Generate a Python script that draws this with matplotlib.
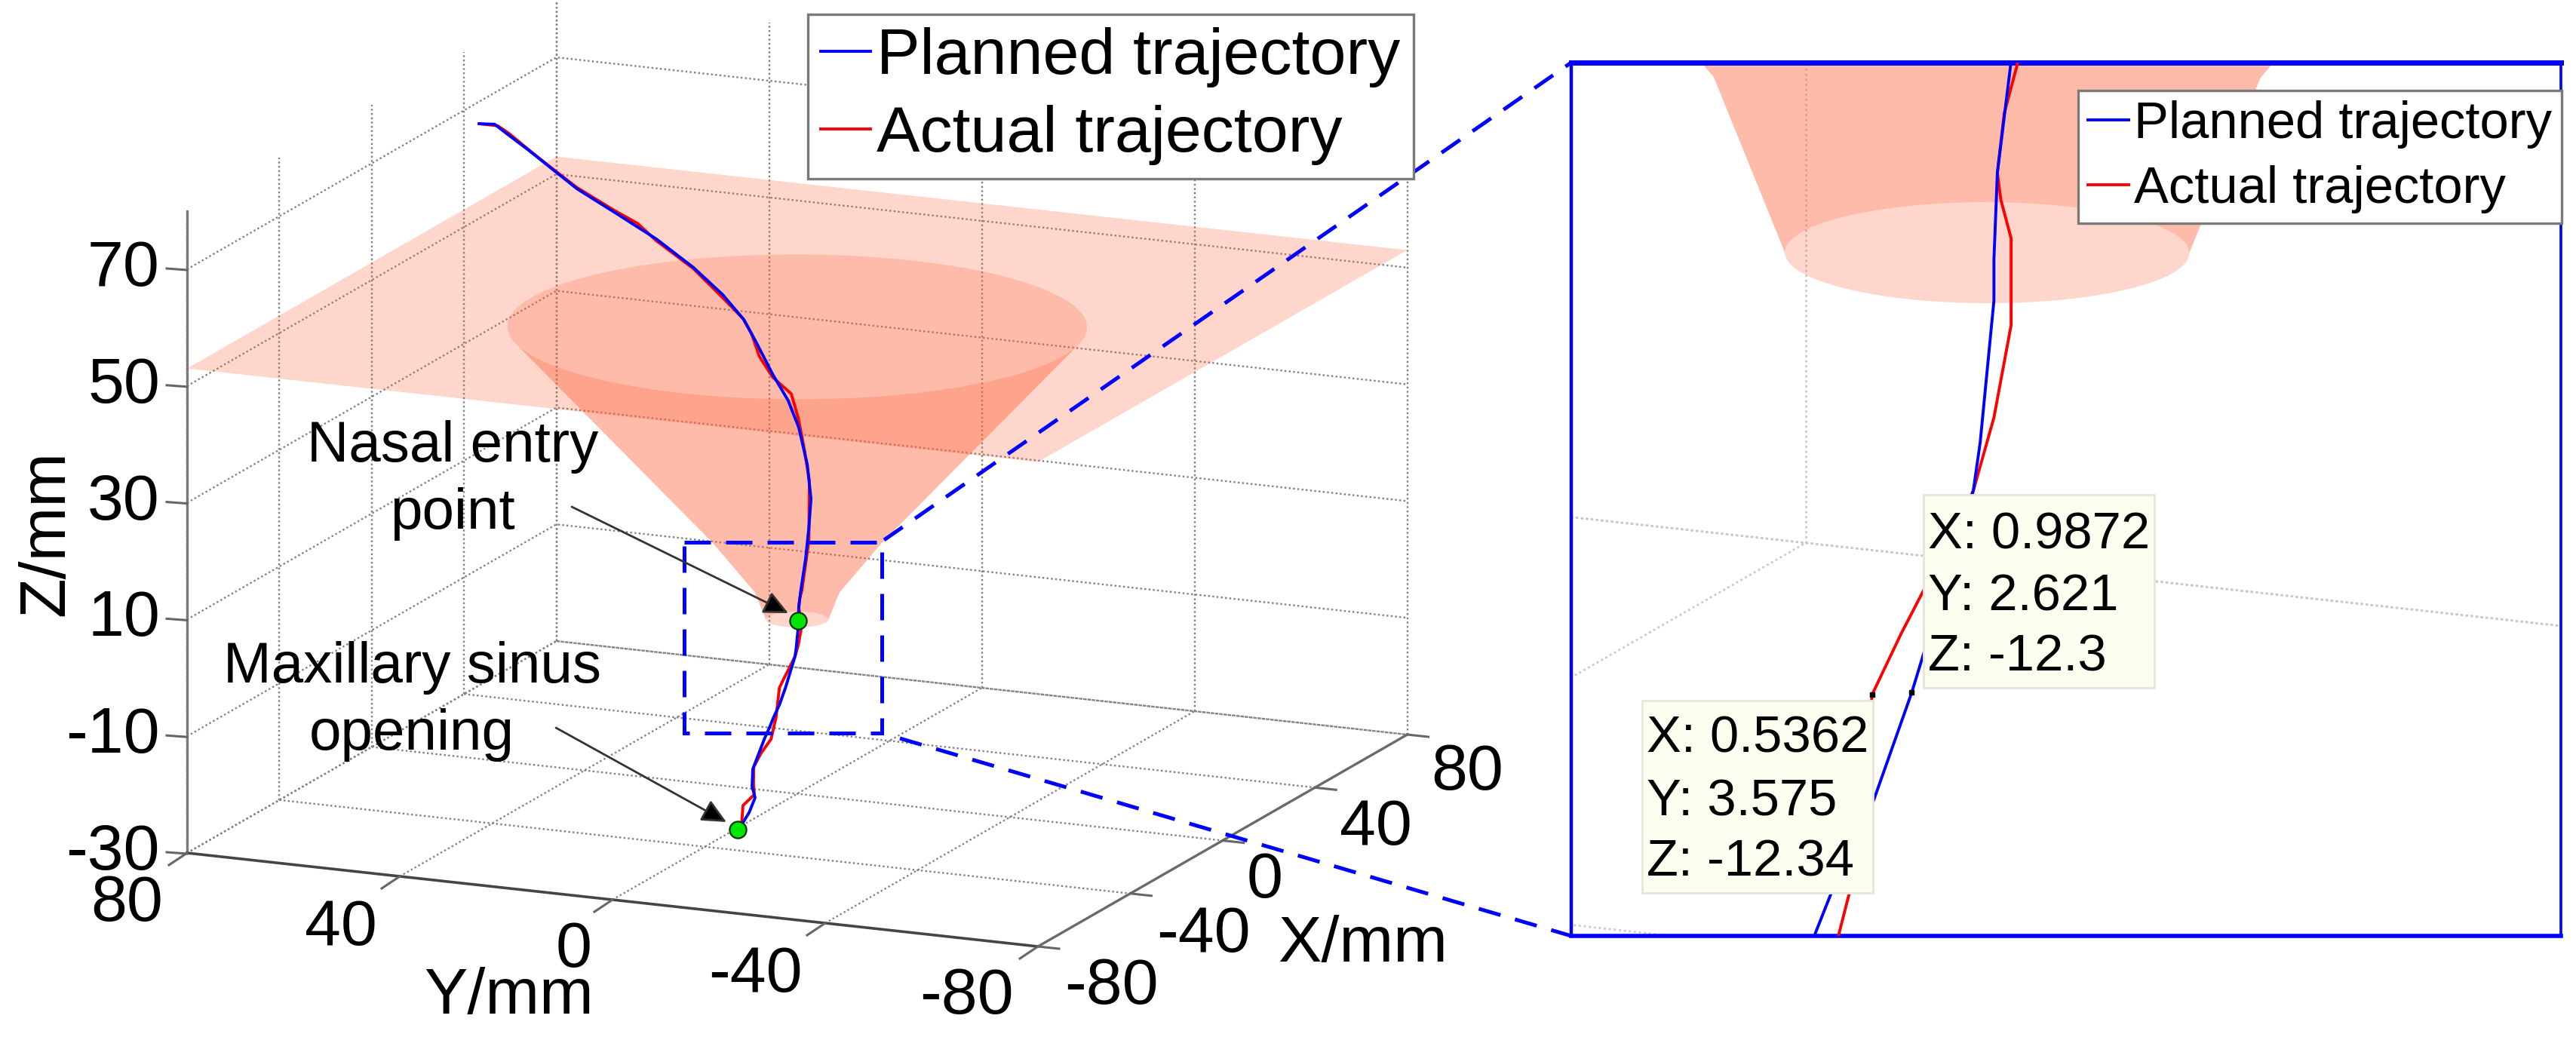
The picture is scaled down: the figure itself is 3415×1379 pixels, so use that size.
import numpy as np
import matplotlib
matplotlib.use("Agg")
import matplotlib.pyplot as plt
from matplotlib.patches import Polygon, Rectangle

plt.rcParams['font.family'] = ['Liberation Sans', 'DejaVu Sans']

# ---------------- data (mm) ----------------
x_ticks = [-80, -40, 0, 40, 80]
y_ticks = [80, 40, 0, -40, -80]
z_ticks = [-30, -10, 10, 30, 50, 70]
z_top = 80

planned_x = [0]*25 + [0.9872] + [0]*4 + [-10, -14, -18, -24, -30, -34]
planned_y = [59.8, 56.9, 54.4, 50.5, 45.4, 41.4, 34.4, 26.5, 19.5, 14.0, 10.0, 7.6, 4.6, 1.7, -0.3, -1.9,
             -2.6, -2.2, -1.6, -0.7, -0.3, -0.2, -0.2, 0.2, 0.4, 2.621, 3.3, 4.5, 5.0, 6.2, 4.0, 2.4, 0.1,
             -1.4, -2.6, -3.6]
planned_z = [78.8, 79.0, 77.5, 75.2, 72.0, 69.5, 66.2, 62.4, 58.2, 54.1, 50.2, 46.4, 41.4, 37.2, 32.8, 26.6,
             20.8, 15.8, 10.5, 5.0, 2.0, -0.3, -1.4, -5.2, -6.5, -12.3, -15.0, -17.5, -18.7, -21.3, -23.9,
             -25.8, -26.6, -27.6, -28.2, -28.1]

actual_x = [0]*30 + [0.5362] + [0]*4 + [-8, -12, -16, -26, -30, -34]
actual_y = [59.8, 56.3, 54.2, 49.9, 45.4, 41.4, 34.4, 30.0, 26.5, 19.5, 14.4, 10.2, 8.6, 7.1, 4.6, 1.1, -0.2,
            -1.3, -2.3, -2.2, -0.9, -0.5, -0.3, -0.4, -0.7, -0.7, -0.2, 0.4, 1.8, 2.5, 3.575, 4.0, 4.3, 4.9,
            6.9, 4.7, 3.0, 1.1, -1.1, -2.6, -3.6]
actual_z = [78.8, 78.8, 77.7, 74.9, 72.1, 69.7, 66.5, 64.7, 62.1, 58.0, 53.9, 50.4, 48.0, 44.2, 40.9, 38.4,
            34.4, 29.4, 23.8, 13.6, 5.0, 3.6, 2.0, 1.3, 0.3, -2.0, -4.5, -6.5, -9.2, -10.5, -12.34, -17.5,
            -18.6, -21.1, -23.9, -24.1, -26.0, -26.6, -26.0, -27.8, -28.1]

entry_point = (0.0, -0.2, -0.3)
sinus_point = (-34.0, -3.6, -28.1)

plane_z = 53.0
cone_z = [-0.15, 4.5, 13, 50]
cone_r = [5.4, 7.3, 14.6, 50]

tip_planned = (0.9872, 2.621, -12.3)
tip_actual = (0.5362, 3.575, -12.34)

series_labels = ['Planned trajectory', 'Actual trajectory']

# ---------------- style ----------------
BLUE = '#0000FF'
RED = '#FF0000'
TINT = (1.0, 100/255, 60/255)
FONT = 'Liberation Sans'
W, H = 3415, 1379


def project(x, y, z):
    """Orthographic view of the chart's 3-D box onto the figure."""
    x, y, z = np.asarray(x, float), np.asarray(y, float), np.asarray(z, float)
    u, w = 80 - y, x + 80
    return 248 + 7.05*u + 3.06*w, 1131 + 0.775*u - 1.756*w - 7.74*(z + 30)


T_RIGHT = np.arctan2(-7.05, 3.06)     # angle of a circle's right-hand extreme on screen


def arc(z, r, start=T_RIGHT, span=np.pi, n=60):
    """Part of a horizontal circle, as projected."""
    t = start - np.linspace(0, span, n)
    return np.c_[project(r*np.cos(t), r*np.sin(t), z*np.ones(n))]


def ring(z, r):
    return np.r_[arc(z, r), arc(z, r, T_RIGHT + np.pi)]


def tangent_angle():
    """Where the funnel's straight side touches the front of the top ring."""
    z1, r1, z2, r2 = cone_z[-1], cone_r[-1], cone_z[-2], cone_r[-2]
    dx = r2*7.685/(r1*7.685)
    dy = (project(0, 0, z2)[1] - project(0, 0, z1)[1])/(r1*1.92)
    return np.arctan2(dy, dx) - np.arccos(1/np.hypot(dx, dy))


def draw_scene(ax, grid_color, grid_lw):
    gs = dict(color=grid_color, lw=grid_lw, ls=(0, (1, 1.4)), zorder=1)
    for x in x_ticks:
        ax.plot(*project([x, x], [80, -80], [-30, -30]), **gs)
        ax.plot(*project([x, x], [80, 80], [-30, z_top]), **gs)
    for y in y_ticks:
        ax.plot(*project([-80, 80], [y, y], [-30, -30]), **gs)
        ax.plot(*project([80, 80], [y, y], [-30, z_top]), **gs)
    for z in z_ticks:
        ax.plot(*project([-80, 80, 80], [80, 80, -80], [z, z, z]), **gs)

    # plane
    px, py = project([-80, 80, 80, -80], [80, 80, -80, -80], [plane_z]*4)
    ax.add_patch(Polygon(np.c_[px, py], fc=TINT, alpha=0.264, ec='none', zorder=2))

    # funnel body: front arc of the top ring, down the left silhouette,
    # back arc of the small bottom ring, up the right silhouette
    s0 = tangent_angle()
    top_front = arc(cone_z[-1], cone_r[-1], T_RIGHT - s0, np.pi - 2*s0)
    bottom_back = arc(cone_z[0], cone_r[0], T_RIGHT + np.pi)
    mid_left = np.array([arc(z, r)[-1] for z, r in zip(cone_z[1:-1], cone_r[1:-1])])[::-1]
    mid_right = np.array([arc(z, r)[0] for z, r in zip(cone_z[1:-1], cone_r[1:-1])])
    body = np.r_[top_front, mid_left, bottom_back, mid_right]
    ax.add_patch(Polygon(body, fc=TINT, alpha=0.44, ec='none', zorder=2.1))
    ax.add_patch(Polygon(ring(cone_z[-1], cone_r[-1]), fc=TINT, alpha=0.237, ec='none', zorder=2.2))
    ax.add_patch(Polygon(ring(cone_z[0], cone_r[0]), fc=TINT, alpha=0.264, ec='none', zorder=2.2))

    la, = ax.plot(*project(actual_x, actual_y, actual_z), color=RED, lw=2.8, zorder=5,
                  solid_joinstyle='round', label=series_labels[1])
    lp, = ax.plot(*project(planned_x, planned_y, planned_z), color=BLUE, lw=2.8, zorder=5.1,
                  solid_joinstyle='round', label=series_labels[0])
    return lp, la


fig = plt.figure(figsize=(W/100, H/100), dpi=100, facecolor='white')
ax = fig.add_axes([0, 0, 1, 1])
ax.set_xlim(0, W)
ax.set_ylim(H, 0)
ax.axis('off')

lp, la = draw_scene(ax, '#808080', 1.7)

# box edges
ax.plot(*project([-80, -80], [80, 80], [-30, z_top]), color='#7a7a7a', lw=2.4, zorder=3)
ax.plot(*project([-80, -80], [80, -80], [-30, -30]), color='#454545', lw=2.6, zorder=3)
ax.plot(*project([-80, 80], [-80, -80], [-30, -30]), color='#6a6a6a', lw=2.4, zorder=3)

# ticks and labels
TICK_FS = 62
for z in z_ticks:
    px, py = project(-80, 80, z)
    ax.plot([px - 27, px], [py - 1, py + 1], color='#666666', lw=2.2, zorder=3)
    ax.text(212, py, str(z), ha='right', va='center', fontsize=TICK_FS, family=FONT)
for y, off in zip(y_ticks, [(-80, 68), (-78, 69), (-51, 67), (-93, 69), (-95, 67)]):
    px, py = project(-80, y, -30)
    ax.plot([px - 24, px], [py + 16, py], color='#666666', lw=2.2, zorder=3)
    ax.text(px + off[0], py + off[1], str(y), ha='center', va='center', fontsize=TICK_FS, family=FONT)
for x, off in zip(x_ticks, [(97, 54), (97, 55), (56, 53), (81, 54), (80, 51)]):
    px, py = project(x, -80, -30)
    ax.plot([px, px + 28], [py, py + 3], color='#666666', lw=2.2, zorder=3)
    ax.text(px + off[0], py + off[1], str(x), ha='center', va='center', fontsize=TICK_FS, family=FONT)

ax.text(675, 1322, 'Y/mm', ha='center', va='center', fontsize=TICK_FS, family=FONT)
ax.text(1807, 1253, 'X/mm', ha='center', va='center', fontsize=TICK_FS, family=FONT)
ax.text(62, 707, 'Z/mm', ha='center', va='center', rotation=90, fontsize=TICK_FS, family=FONT)

# zoom box and connectors
DASH = (0, (7, 4))
ax.add_patch(Rectangle((907, 719), 262, 253, fill=False, ec=BLUE, lw=3.6, ls=DASH, zorder=6))
ax.plot([1172, 2083], [716, 83], color=BLUE, lw=3.6, ls=(0, (6, 4)), zorder=6)
ax.plot([1193, 2083], [979, 1241], color=BLUE, lw=3.6, ls=(0, (6, 4)), zorder=6)

# points
for p in (entry_point, sinus_point):
    px, py = project(*p)
    ax.plot(px, py, 'o', mfc='#00E600', mec='#103010', mew=1.6, ms=16, zorder=8)

# annotations
ANN = 55
ax.text(600, 637, 'Nasal entry\npoint', ha='center', va='center', fontsize=ANN, linespacing=1.33, family=FONT)
ax.text(546, 930, 'Maxillary sinus\nopening', ha='center', va='center', fontsize=ANN, linespacing=1.33, family=FONT)
ap = dict(arrowstyle='-|>,head_length=0.55,head_width=0.26', fc='black', ec='#333333', lw=2,
          mutation_scale=36, shrinkA=0, shrinkB=0)
ax.annotate('', xy=(1045, 813), xytext=(758, 672), arrowprops=ap, zorder=7)
ax.annotate('', xy=(963, 1090), xytext=(737, 965), arrowprops=ap, zorder=7)

# main legend
leg = ax.legend([lp, la], series_labels, loc='upper left', bbox_to_anchor=(1071, 19),
                bbox_transform=ax.transData, fontsize=62, frameon=True, fancybox=False,
                framealpha=1, edgecolor='#7a7a7a', handlelength=0.76, handletextpad=0.1,
                borderpad=0.2, borderaxespad=0, labelspacing=0.27)
leg.get_frame().set_linewidth(2.4)
leg.set_zorder(9)

# inset: a magnified window on the same scene
SCALE = 6.46
IX0, IX1, IY0, IY1 = 2083, 3395, 83, 1241
win_x0 = 1058 + (IX0 - 2642)/SCALE
win_x1 = 1058 + (IX1 - 2642)/SCALE
win_y0 = 821 + (IY0 - 332)/SCALE
win_y1 = 821 + (IY1 - 332)/SCALE
axi = fig.add_axes([IX0/W, 1 - IY1/H, (IX1 - IX0)/W, (IY1 - IY0)/H], zorder=5)
axi.set_xlim(win_x0, win_x1)
axi.set_ylim(win_y1, win_y0)
axi.set_xticks([])
axi.set_yticks([])
lpi, lai = draw_scene(axi, '#c9c9c9', 2.0)
for s, w_ in zip(['top', 'bottom', 'left', 'right'], [5.0, 4.0, 3.2, 2.6]):
    axi.spines[s].set_color(BLUE)
    axi.spines[s].set_linewidth(w_)

for p in (tip_planned, tip_actual):
    px, py = project(*p)
    axi.plot(px, py, 's', color='black', ms=5, zorder=6)

legi = axi.legend([lpi, lai], series_labels, loc='upper left', bbox_to_anchor=((2755 - IX0)/(IX1 - IX0), 1 - (120 - IY0)/(IY1 - IY0)),
                  fontsize=49.5, frameon=True, fancybox=False, framealpha=1, edgecolor='#7a7a7a',
                  handlelength=0.78, handletextpad=0.1, borderpad=0.19, borderaxespad=0, labelspacing=0.32)
legi.get_frame().set_linewidth(2.4)
legi.set_zorder(9)

# data tips sit on an overlay in figure pixels
ov = fig.add_axes([0, 0, 1, 1], zorder=10)
ov.set_xlim(0, W)
ov.set_ylim(H, 0)
ov.axis('off')
ov.patch.set_alpha(0)


def tip_box(x0, y0, x1, y1, tip, tx, baselines):
    ov.add_patch(Rectangle((x0, y0), x1 - x0, y1 - y0, fc='#FDFDF0', ec='#E6E6DC', lw=2, zorder=1))
    for lab, val, b in zip('XYZ', tip, baselines):
        ov.text(tx, b, f'{lab}: {val:.4g}', ha='left', va='baseline', fontsize=49.5, family=FONT, zorder=2)


tip_box(2550, 656, 2856, 912, tip_planned, 2556, (728, 810, 890))
tip_box(2177, 929, 2483, 1184, tip_actual, 2183, (998, 1081, 1162))

fig.savefig('out.png', dpi=100, facecolor='white')
